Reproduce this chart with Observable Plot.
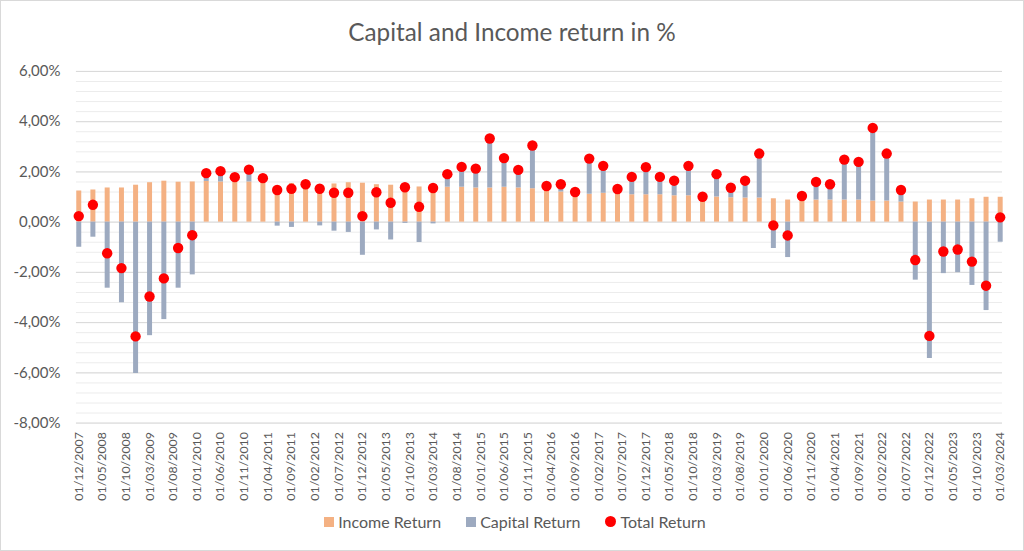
<!DOCTYPE html>
<html>
<head>
<meta charset="utf-8">
<script src="https://cdn.jsdelivr.net/npm/d3@7"></script>
<script src="https://cdn.jsdelivr.net/npm/@observablehq/plot@0.6"></script>
<style>
  html, body { margin: 0; padding: 0; background: #fff; }
  #wrap { position: relative; width: 1022px; height: 549px; border: 1px solid #d9d9d9; overflow: hidden; font-family: Lato, "Open Sans", sans-serif; color: #595959; }
  #title { position: absolute; left: 0; right: 0; top: 16px; text-align: center; font-size: 24.3px; color: #595959; }
  #chart { position: absolute; left: -1px; top: -1px; }
  #legend { position: absolute; left: 6px; right: 0; top: 511px; display: flex; justify-content: center; gap: 25px; font-size: 16px; color: #595959; }
  .item { display: flex; align-items: center; gap: 4px; }
  .sw { width: 10px; height: 10px; display: inline-block; }
  .dot { width: 11px; height: 11px; border-radius: 50%; display: inline-block; }
</style>
</head>
<body>
<div id="wrap">
  <div id="title">Capital and Income return in %</div>
  <div id="chart"></div>
  <div id="legend"></div>
</div>
<script>
// Quarter dates (categories)
const quarters = [
  "2007-12","2008-03","2008-06","2008-09","2008-12","2009-03","2009-06","2009-09","2009-12",
  "2010-03","2010-06","2010-09","2010-12","2011-03","2011-06","2011-09","2011-12",
  "2012-03","2012-06","2012-09","2012-12","2013-03","2013-06","2013-09","2013-12",
  "2014-03","2014-06","2014-09","2014-12","2015-03","2015-06","2015-09","2015-12",
  "2016-03","2016-06","2016-09","2016-12","2017-03","2017-06","2017-09","2017-12",
  "2018-03","2018-06","2018-09","2018-12","2019-03","2019-06","2019-09","2019-12",
  "2020-03","2020-06","2020-09","2020-12","2021-03","2021-06","2021-09","2021-12",
  "2022-03","2022-06","2022-09","2022-12","2023-03","2023-06","2023-09","2023-12","2024-03"
];

// Income return (%)
const incomeReturn = [
  1.24,1.28,1.36,1.36,1.47,1.57,1.63,1.59,1.60,
  1.62,1.60,1.60,1.60,1.57,1.44,1.54,1.50,
  1.48,1.52,1.57,1.55,1.49,1.47,1.44,1.40,
  1.43,1.39,1.39,1.36,1.36,1.39,1.36,1.33,
  1.27,1.20,1.15,1.11,1.15,1.13,1.09,1.09,
  1.09,1.05,1.05,1.00,1.00,0.97,0.96,0.96,
  0.93,0.88,0.90,0.88,0.88,0.88,0.88,0.84,
  0.84,0.80,0.80,0.88,0.88,0.88,0.93,0.99,0.99
];

// Capital return (%)
const capitalReturn = [
  -1.00,-0.60,-2.63,-3.21,-6.03,-4.52,-3.88,-2.63,-2.10,
  0.33,0.43,0.19,0.49,0.18,-0.16,-0.21,0.01,
  -0.15,-0.36,-0.41,-1.32,-0.31,-0.71,-0.05,-0.81,
  -0.07,0.52,0.81,0.77,1.97,1.16,0.72,1.72,
  0.17,0.31,0.05,1.42,1.09,0.19,0.71,1.10,
  0.71,0.60,1.19,0.01,0.91,0.40,0.69,1.77,
  -1.05,-1.41,0.14,0.72,0.63,1.61,1.52,2.91,
  1.89,0.48,-2.31,-5.43,-2.05,-2.01,-2.52,-3.52,-0.80
];

// Total return (%)
const totalReturn = [
  0.24,0.69,-1.24,-1.83,-4.55,-2.96,-2.24,-1.03,-0.52,
  1.95,2.03,1.79,2.09,1.75,1.28,1.33,1.51,
  1.33,1.17,1.17,0.24,1.19,0.77,1.39,0.61,
  1.36,1.91,2.20,2.13,3.33,2.55,2.08,3.05,
  1.44,1.51,1.20,2.53,2.24,1.32,1.80,2.19,
  1.80,1.65,2.24,1.01,1.91,1.37,1.65,2.73,
  -0.13,-0.53,1.04,1.60,1.51,2.49,2.40,3.75,
  2.73,1.28,-1.51,-4.53,-1.17,-1.09,-1.57,-2.53,0.19
];

// X tick labels
const xTickLabels = [
  "01/12/2007","01/05/2008","01/10/2008","01/03/2009","01/08/2009","01/01/2010","01/06/2010","01/11/2010",
  "01/04/2011","01/09/2011","01/02/2012","01/07/2012","01/12/2012","01/05/2013","01/10/2013","01/03/2014",
  "01/08/2014","01/01/2015","01/06/2015","01/11/2015","01/04/2016","01/09/2016","01/02/2017","01/07/2017",
  "01/12/2017","01/05/2018","01/10/2018","01/03/2019","01/08/2019","01/01/2020","01/06/2020","01/11/2020",
  "01/04/2021","01/09/2021","01/02/2022","01/07/2022","01/12/2022","01/05/2023","01/10/2023","01/03/2024"
];
const yTicks = [-8, -6, -4, -2, 0, 2, 4, 6];

const seriesNames = ["Income Return", "Capital Return", "Total Return"];
const seriesColors = ["#F4B183", "#9DAAC0", "#FF0000"];

const parseQ = d3.utcParse("%Y-%m");
const parseTick = d3.utcParse("%d/%m/%Y");
const dates = quarters.map(parseQ);
const tickDates = xTickLabels.map(parseTick);

const bars = [];
dates.forEach((d, i) => {
  bars.push({date: d, series: seriesNames[0], value: incomeReturn[i]});
  bars.push({date: d, series: seriesNames[1], value: capitalReturn[i]});
});
const totals = dates.map((d, i) => ({date: d, value: totalReturn[i]}));

const minorTicks = d3.range(-8, 6.001, 0.4).map(v => +v.toFixed(2));

const chart = Plot.plot({
  width: 1024,
  height: 551,
  marginTop: 71,
  marginBottom: 128,
  marginLeft: 76,
  marginRight: 21,
  style: {fontFamily: "Lato, 'Open Sans', sans-serif", color: "#595959", background: "transparent"},
  x: {type: "utc", domain: [d3.utcDay.offset(dates[0], -15), d3.utcDay.offset(dates[dates.length - 1], 15)]},
  y: {domain: [-8, 6]},
  color: {domain: seriesNames.slice(0, 2), range: seriesColors.slice(0, 2)},
  marks: [
    Plot.ruleY(minorTicks, {stroke: "#ececec", strokeWidth: 1}),
    Plot.ruleY(yTicks, {stroke: "#d9d9d9", strokeWidth: 1}),
    Plot.ruleX(bars, Plot.stackY({x: "date", y: "value", z: "series", stroke: "series", strokeWidth: 5, order: seriesNames.slice(0, 2)})),
    Plot.dot(totals, {x: "date", y: "value", r: 5.2, fill: seriesColors[2], stroke: "none"}),
    Plot.axisY({ticks: yTicks, tickSize: 0, tickPadding: 16, fontSize: 15, tickFormat: d => d.toFixed(2).replace(".", ",") + "%", label: null}),
    Plot.axisX({ticks: tickDates, tickSize: 0, tickPadding: 9, tickRotate: -90, fontSize: 12.4, tickFormat: d3.utcFormat("%d/%m/%Y"), label: null})
  ]
});
document.getElementById("chart").appendChild(chart);

const legend = document.getElementById("legend");
seriesNames.forEach((name, i) => {
  const item = document.createElement("div");
  item.className = "item";
  const sw = document.createElement("span");
  sw.className = i === 2 ? "dot" : "sw";
  sw.style.background = seriesColors[i];
  const label = document.createElement("span");
  label.textContent = name;
  item.appendChild(sw);
  item.appendChild(label);
  legend.appendChild(item);
});
</script>
</body>
</html>
